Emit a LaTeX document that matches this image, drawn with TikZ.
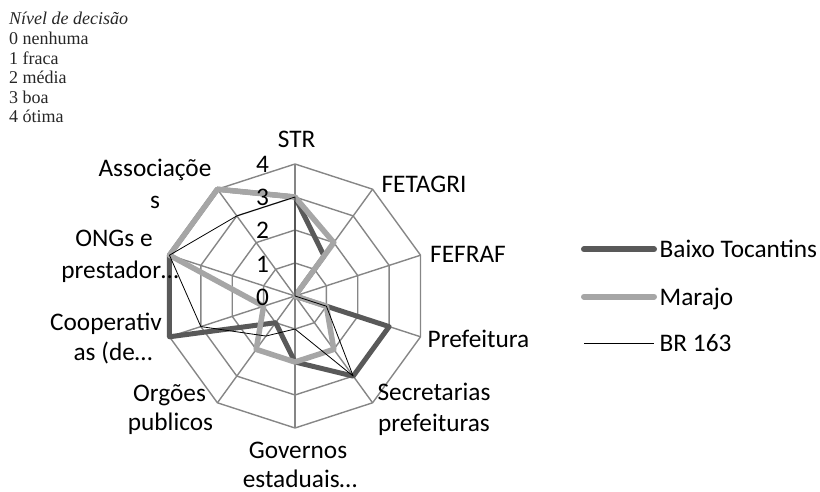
\documentclass[tikz,border=0pt]{standalone}
\usepackage{fontspec}
\setmainfont{Carlito}
\newfontfamily\serifleg{Liberation Serif}
\usetikzlibrary{calc}
\definecolor{darkser}{HTML}{595959}
\definecolor{lightser}{HTML}{A6A6A6}
\definecolor{gridc}{HTML}{868686}
\begin{document}
\begin{tikzpicture}[x=1pt,y=-1pt,
  gridline/.style={draw=gridc,line width=1.4pt},
  serA/.style={draw=darkser,line width=5pt,line join=round},
  serB/.style={draw=lightser,line width=5.5pt,line join=round},
  serC/.style={draw=black,line width=0.8pt,line join=round},
  axlab/.style={font=\fontsize{25.3}{30}\selectfont,anchor=base,inner sep=0pt},
  legtext/.style={font=\fontsize{25.3}{30}\selectfont,anchor=base west,inner sep=0pt},
  toptext/.style={font=\serifleg\fontsize{18}{20}\selectfont,anchor=base west,inner sep=0pt,text=black!85}]
\useasboundingbox (0,0) rectangle (820,492);
\coordinate (C) at (295,296);
% grid
\foreach \k in {1,...,4}{
  \draw[gridline] ($(C)+(-90:{\k*33})$) \foreach \i in {1,...,9}{ -- ($(C)+({36*\i-90}:{\k*33})$) } -- cycle;
}
\foreach \i in {0,...,9}{
  \coordinate (s\i) at ($(C)+({36*\i-90}:132)$);
  \draw[gridline] (C) -- (s\i);
}
% series points
\foreach \v [count=\i from 0] in {3,1.5,0,3,3,2,1,4,4,4}{
  \coordinate (a\i) at ($(C)+({36*\i-90}:{\v*33})$);
}
\foreach \v [count=\i from 0] in {3,2,0,1,2,2,2,1,4,4}{
  \coordinate (b\i) at ($(C)+({36*\i-90}:{\v*33})$);
}
\foreach \v [count=\i from 0] in {3,0,0,1,3,1,1.5,3,4,3}{
  \coordinate (c\i) at ($(C)+({36*\i-90}:{\v*33})$);
}
\draw[serA] (a0) -- (a1) -- (a2) -- (a3) -- (a4) -- (a5) -- (a6) -- (a7) -- (a8) -- (a9) -- cycle;
\draw[serB] (b0) -- (b1) -- (b2) -- (b3) -- (b4) -- (b5) -- (b6) -- (b7) -- (b8) -- (b9) -- cycle;
\draw[serC] (c0) -- (c1) -- (c2) -- (c3) -- (c4) -- (c5) -- (c6) -- (c7) -- (c8) -- (c9) -- cycle;
% scale numbers
\foreach \k in {0,...,4}{
  \node[axlab] (n\k) at (262.5,{305-33*\k}) {\k};
}
% axis labels
\node[axlab] (L0) at (296.7,148) {STR};
\node[axlab] (L1) at (424,193) {FETAGRI};
\node[axlab] (L2) at (468,262) {FEFRAF};
\node[axlab] (L3) at (478.5,347) {Prefeitura};
\node[axlab] (L4a) at (434,400) {Secretarias};
\node[axlab] (L4b) at (434,431) {prefeituras};
\node[axlab] (L5a) at (298,458) {Governos};
\node[axlab] (L5b) at (300,487) {estaduais…};
\node[axlab] (L6a) at (169.5,401.5) {Orgões};
\node[axlab] (L6b) at (170.5,430) {publicos};
\node[axlab] (L7a) at (106,330) {Cooperativ};
\node[axlab] (L7b) at (113,360) {as (de…};
\node[axlab] (L8a) at (114,246.7) {ONGs e};
\node[axlab] (L8b) at (120,278) {prestador…};
\node[axlab] (L9a) at (155,176.7) {Associaçõe};
\node[axlab] (L9b) at (155,208) {s};
% legend
\coordinate (lA1) at (584,249.3); \coordinate (lA2) at (654,249.3);
\coordinate (lB1) at (584,296.7); \coordinate (lB2) at (654,296.7);
\coordinate (lC1) at (584,343.3); \coordinate (lC2) at (654,343.3);
\draw[serA,line width=6pt,line cap=round] (lA1) -- (lA2);
\draw[serB,line width=6pt,line cap=round] (lB1) -- (lB2);
\draw[serC] (lC1) -- (lC2);
\node[legtext] (tA) at (659.5,257.5) {Baixo Tocantins};
\node[legtext] (tB) at (659.5,305) {Marajo};
\node[legtext] (tC) at (659.5,351) {BR 163};
% top-left legend
\node[toptext] (h0) at (9,25) {\itshape Nível de decisão};
\node[toptext] (h1) at (9,44.6) {0 nenhuma};
\node[toptext] (h2) at (9,64.2) {1 fraca};
\node[toptext] (h3) at (9,83.8) {2 média};
\node[toptext] (h4) at (9,103.4) {3 boa};
\node[toptext] (h5) at (9,123) {4 ótima};
\end{tikzpicture}
\end{document}
